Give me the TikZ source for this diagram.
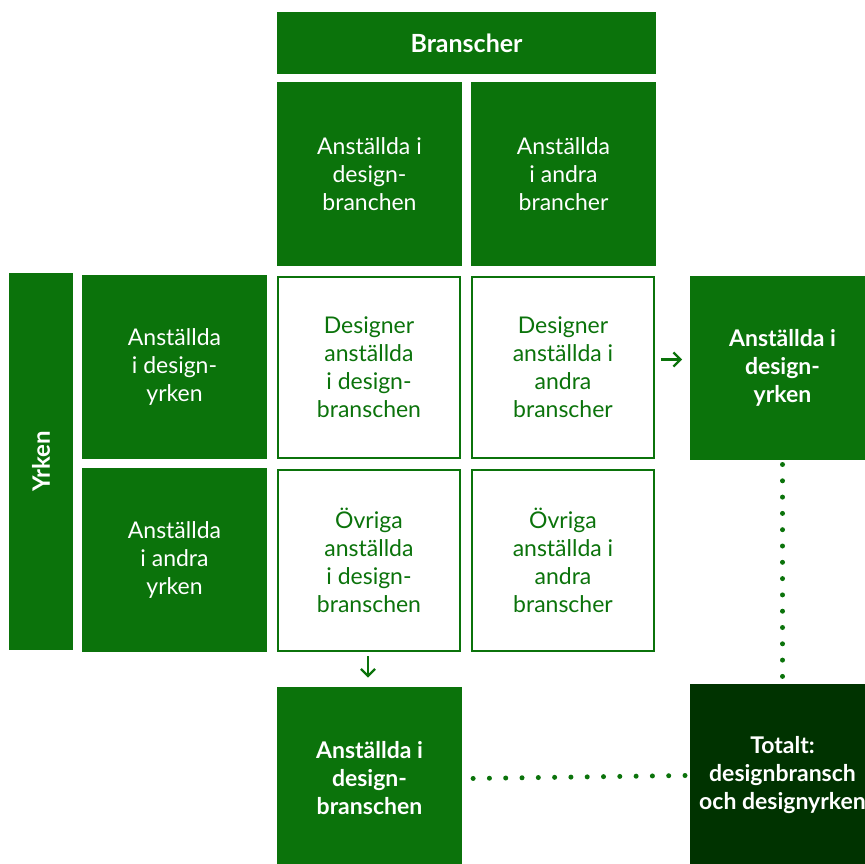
\documentclass[tikz,border=0pt]{standalone}
\usepackage{fontspec}
\setmainfont{Lato}
\usetikzlibrary{positioning,arrows.meta}
\definecolor{dgreen}{HTML}{0B730B}
\definecolor{ddgreen}{HTML}{003300}

\begin{document}
\begin{tikzpicture}[
    x=1pt, y=-1pt,
    cell/.style={rectangle, minimum width=185pt, minimum height=184pt, inner sep=0pt, outer sep=0pt,
                 align=center, font=\fontsize{23}{28}\selectfont},
    full/.style={cell, fill=dgreen, text=white},
    hl/.style={full, font=\fontsize{23}{28}\selectfont\bfseries},
    open/.style={cell, draw=dgreen, line width=2pt, fill=white, text=dgreen,
                 minimum width=182pt, minimum height=181pt},
    dots/.style={dgreen, line width=5pt, line cap=round, dash pattern=on 0pt off 16.3pt},
    arrow/.style={-{Straight Barb[length=7pt,width=14pt]}, dgreen, line width=2.2pt}
  ]
    \useasboundingbox (0,0) rectangle (865,864);
    \clip (0,0) rectangle (865,864);

    % column heads
    \node[full] (topdesign) at (369.5,174) {Anställda i\\design-\\branchen};
    \node[full, right=9pt of topdesign] (topother) {Anställda\\i andra\\brancher};
    \node[full, minimum width=379pt, minimum height=62pt, font=\fontsize{25}{28}\selectfont\bfseries]
      (branscher) at (466.5,43) {Branscher};

    % the four cells
    \node[open] (c11) at (369,367.5) {Designer\\anställda\\i design-\\branschen};
    \node[open, right=12pt of c11] (c12) {Designer\\anställda i\\andra\\branscher};
    \node[open, below=12pt of c11] (c21) {Övriga\\anställda\\i design-\\branschen};
    \node[open, right=12pt of c21] (c22) {Övriga\\anställda i\\andra\\branscher};

    % row heads
    \node[full] (leftdesign) at (174.5,366.5) {Anställda\\i design-\\yrken};
    \node[full, below=9pt of leftdesign] (leftother) {Anställda\\i andra\\yrken};
    \node[full, minimum width=377pt, minimum height=64pt, rotate=90, font=\fontsize{24}{28}\selectfont\bfseries]
      (yrken) at (41,461.5) {Yrken};

    % sums
    \node[hl] (sumyrke) at (782.5,367.5) {Anställda i\\design-\\yrken};
    \node[hl] (sumbransch) at (369.5,778.5) {Anställda i\\design-\\branschen};
    \node[hl, fill=ddgreen] (total) at (782.5,775.5) {Totalt:\\designbransch\\och designyrken};

    \draw[arrow] ([xshift=7pt,yshift=8pt]c12.east) -- ([xshift=-8pt,yshift=8pt]sumyrke.west);
    \draw[arrow] ([yshift=-5pt,xshift=-1pt]c21.south) -- ([yshift=9pt,xshift=-1.5pt]sumbransch.north);
    \draw[dots] ([yshift=-5pt]sumyrke.south) -- ([yshift=5pt]total.north);
    \draw[dots] ([xshift=-5pt]total.west) -- ([xshift=8pt]sumbransch.east);
  \end{tikzpicture}
\end{document}
